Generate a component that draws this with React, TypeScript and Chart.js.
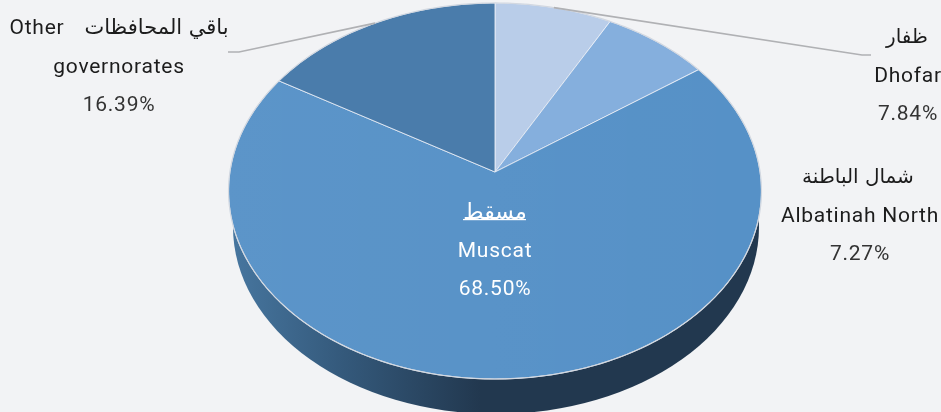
import React, { useEffect, useRef } from "react";
import { Chart, registerables } from "chart.js";

Chart.register(...registerables);

const categories = ["Dhofar", "Albatinah North", "Muscat", "Other governorates"];
const shares = [7.84, 7.27, 68.5, 16.39];
const sliceColors = ["#b9cde9", "#85afdd", "#5691c7", "#4a7cab"];
const percentLabels = ["7.84%", "7.27%", "68.50%", "16.39%"];
const FONT = '"Roboto", "DejaVu Sans", sans-serif';
const ARABIC_FONT = '"DejaVu Sans", sans-serif';

// projective mapping of the unit circle on to the tilted pie's top face
const CX = 495;
const CY = 172;
const A = 265.1;
const B = 186.1;
const K = 0.101;

const project = (angle: number) => {
  const u = Math.cos(angle);
  const v = -Math.sin(angle);
  const d = 1 + K * v;
  return { x: CX + (A * u) / d, y: CY - (B * v) / d };
};

const rimPath = (ctx: CanvasRenderingContext2D, from: number, to: number) => {
  const steps = Math.max(2, Math.ceil(((to - from) * 180) / Math.PI));
  for (let i = 0; i <= steps; i++) {
    const p = project(from + ((to - from) * i) / steps);
    ctx.lineTo(p.x, p.y);
  }
};

const latin = (ctx: CanvasRenderingContext2D, text: string, x: number, y: number, color: string) => {
  ctx.fillStyle = color;
  ctx.font = `21px ${FONT}`;
  (ctx as any).letterSpacing = "0.75px";
  ctx.textAlign = "center";
  ctx.textBaseline = "middle";
  ctx.fillText(text, x, y);
};

const arabic = (ctx: CanvasRenderingContext2D, text: string, x: number, y: number, color: string, size = 20) => {
  ctx.fillStyle = color;
  ctx.font = `${size}px ${ARABIC_FONT}`;
  (ctx as any).letterSpacing = "0px";
  ctx.textAlign = "center";
  ctx.textBaseline = "middle";
  ctx.fillText(text, x, y);
};

const pie3d = {
  id: "pie3d",
  beforeDatasetDraw(chart: any) {
    const ctx: CanvasRenderingContext2D = chart.ctx;
    const arcs = chart.getDatasetMeta(0).data;
    ctx.save();

    // side wall
    const wall = ctx.createLinearGradient(232, 0, 480, 0);
    wall.addColorStop(0, "#47769f");
    wall.addColorStop(0.45, "#34597b");
    wall.addColorStop(1, "#22384f");
    ctx.fillStyle = wall;
    ctx.beginPath();
    ctx.ellipse(CX + 1, 227, 263, 187, 0, 0, Math.PI * 2);
    ctx.fill();

    // slices
    const sheen = ctx.createLinearGradient(230, 0, 760, 0);
    sheen.addColorStop(0, "rgba(255,255,255,0.035)");
    sheen.addColorStop(1, "rgba(255,255,255,0)");
    arcs.forEach((arc: any, i: number) => {
      const { startAngle, endAngle } = arc.getProps(["startAngle", "endAngle"]);
      ctx.beginPath();
      ctx.moveTo(CX, CY);
      rimPath(ctx, startAngle, endAngle);
      ctx.closePath();
      ctx.fillStyle = arc.options.backgroundColor;
      ctx.fill();
      if (i === 2) {
        ctx.fillStyle = sheen;
        ctx.fill();
      }
      ctx.strokeStyle = "rgba(235,240,248,0.85)";
      ctx.lineWidth = 1;
      ctx.stroke();
    });
    const first = arcs[0].getProps(["startAngle"]).startAngle;
    ctx.beginPath();
    rimPath(ctx, first, first + Math.PI * 2);
    ctx.strokeStyle = "#d3d8e0";
    ctx.lineWidth = 1.2;
    ctx.stroke();

    // leader lines start at the middle of their slice's rim
    const { startAngle: s0, endAngle: e0 } = arcs[0].getProps(["startAngle", "endAngle"]);
    const { startAngle: s3, endAngle: e3 } = arcs[3].getProps(["startAngle", "endAngle"]);
    const a = project((s0 + e0) / 2);
    const b = project((s3 + e3) / 2);
    ctx.strokeStyle = "#b0b1b4";
    ctx.lineWidth = 1.6;
    ctx.beginPath();
    ctx.moveTo(a.x, a.y);
    ctx.lineTo(862, 55);
    ctx.lineTo(871, 55);
    ctx.moveTo(b.x, b.y);
    ctx.lineTo(239, 52);
    ctx.lineTo(228, 52);
    ctx.stroke();

    // labels
    const dark = "#1c1c1c";
    const grey = "#333333";
    latin(ctx, "Other", 37, 29, dark);
    arabic(ctx, "باقي المحافظات", 156.5, 29, dark, 21);
    latin(ctx, "governorates", 119, 68, dark);
    latin(ctx, percentLabels[3], 119, 106, grey);
    arabic(ctx, "ظفار", 907, 38, dark);
    latin(ctx, "Dhofar", 908, 77, dark);
    latin(ctx, percentLabels[0], 908, 115, grey);
    arabic(ctx, "شمال الباطنة", 858, 178, dark);
    latin(ctx, "Albatinah North", 860, 217, dark);
    latin(ctx, percentLabels[1], 860, 255, grey);
    arabic(ctx, "مسقط", 495, 213, "#ffffff", 22);
    ctx.fillStyle = "#ffffff";
    ctx.fillRect(463, 219, 63, 1.2);
    latin(ctx, "Muscat", 495, 252, "#ffffff");
    latin(ctx, percentLabels[2], 495, 290, "#ffffff");

    ctx.restore();
    return false;
  },
};

export default function App() {
  const ref = useRef<HTMLCanvasElement>(null);
  useEffect(() => {
    const chart = new Chart(ref.current!, {
      type: "pie",
      data: {
        labels: categories,
        datasets: [{ data: shares, backgroundColor: sliceColors, borderWidth: 0 }],
      },
      options: {
        animation: false,
        responsive: false,
        plugins: { legend: { display: false }, tooltip: { enabled: false } },
      },
      plugins: [pie3d],
    } as any);
    return () => chart.destroy();
  }, []);
  return (
    <div style={{ position: "fixed", left: 0, top: 0, width: 941, height: 412, background: "#f2f3f5", overflow: "hidden" }}>
      <canvas ref={ref} width={941} height={412} style={{ display: "block" }} />
    </div>
  );
}
